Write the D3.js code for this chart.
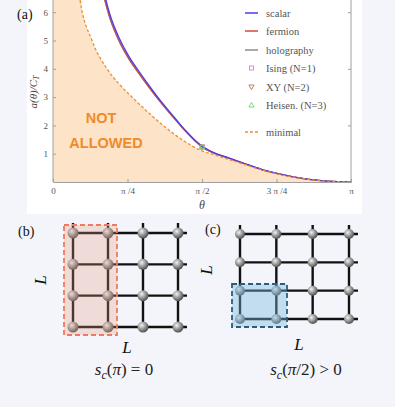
<!DOCTYPE html>
<html><head><meta charset="utf-8">
<script src="https://cdn.jsdelivr.net/npm/d3@7"></script>
<style>body{margin:0;background:#f4f5fa}svg{display:block}</style>
</head><body>
<script>
// ---- data ----
const thetaMain   = [0.53, 0.60, 0.70, 0.80, 0.90, 1.00, 1.10, 1.20, 1.30, 1.40, 1.50, 1.571, 1.70, 1.845, 2.00, 2.20, 2.40, 2.60, 2.80, 3.00, Math.PI];
const scalarVals  = [6.80, 5.92, 5.07, 4.44, 3.94, 3.47, 3.02, 2.60, 2.20, 1.81, 1.47, 1.27, 1.03, 0.86, 0.68, 0.45, 0.28, 0.145, 0.057, 0.012, 0];
const fermionVals = [6.65, 5.80, 4.97, 4.36, 3.87, 3.41, 2.97, 2.56, 2.17, 1.79, 1.45, 1.25, 1.02, 0.85, 0.67, 0.44, 0.27, 0.14, 0.055, 0.012, 0];
const holoVals    = [6.62, 5.78, 4.95, 4.34, 3.86, 3.40, 2.96, 2.55, 2.16, 1.78, 1.44, 1.24, 1.01, 0.84, 0.67, 0.44, 0.27, 0.14, 0.055, 0.012, 0];
const thetaMin    = [0.25, 0.285, 0.411, 0.569, 0.70, 0.833, 1.00, 1.16, 1.35, 1.55, 1.70, 2.00, 2.20, 2.40, 2.60, 2.80, 3.00, Math.PI];
const minimalVals = [7.30, 6.43, 5.00, 4.00, 3.45, 3.00, 2.47, 2.00, 1.52, 1.13, 0.96, 0.64, 0.43, 0.26, 0.135, 0.052, 0.011, 0];
const modelNames  = ["Ising (N=1)", "XY (N=2)", "Heisen. (N=3)"];
const modelVals   = [1.23, 1.24, 1.25];
const xTickVals   = [0, Math.PI/4, Math.PI/2, 3*Math.PI/4, Math.PI];
const xTickLabels = ["0", "π /4", "π /2", "3 π /4", "π"];
const yTickVals   = [1, 2, 3, 4, 5, 6];
const yRightTicks = [2, 4, 6];
const latticeCols = [0, 1, 2, 3];
const latticeRows = [0, 1, 2, 3];

const W = 395, H = 407;
const svg = d3.select("body").append("svg").attr("width", W).attr("height", H);
const defs = svg.append("defs");

// background panel (a)
svg.append("rect").attr("x", 27).attr("y", 0).attr("width", 335).attr("height", 214).attr("fill", "#ffffff");

const x = d3.scaleLinear().domain([0, Math.PI]).range([53, 351]);
const y = d3.scaleLinear().domain([0, 6]).range([182, 12.2]);

defs.append("clipPath").attr("id", "plotclip").append("rect")
  .attr("x", 53).attr("y", 0).attr("width", 298).attr("height", 182);

const serif = "'Liberation Serif', 'Times New Roman', serif";
const plot = svg.append("g").attr("clip-path", "url(#plotclip)");

// shaded "not allowed" region
const minData = thetaMin.map((t, i) => [t, minimalVals[i]]);
plot.append("rect").attr("x", x(0)).attr("y", 0).attr("width", x(0.3) - x(0)).attr("height", 182).attr("fill", "#fde3c7");
plot.append("path").datum(minData)
  .attr("d", d3.area().x(d => x(d[0])).y0(y(0)).y1(d => y(d[1])).curve(d3.curveMonotoneX))
  .attr("fill", "#fde3c7");

const line = d3.line().x(d => x(d[0])).y(d => y(d[1])).curve(d3.curveMonotoneX);
const series = [
  {vals: holoVals, color: "#8c8c8c"},
  {vals: fermionVals, color: "#cf4a3c"},
  {vals: scalarVals, color: "#4a3cf0"}
];
series.forEach(s => {
  plot.append("path").datum(thetaMain.map((t, i) => [t, s.vals[i]]))
    .attr("d", line).attr("fill", "none").attr("stroke", s.color).attr("stroke-width", 1.3);
});
plot.append("path").datum(minData).attr("d", line).attr("fill", "none")
  .attr("stroke", "#e8903a").attr("stroke-width", 1.3).attr("stroke-dasharray", "3,2");

// markers
const markerColors = ["#e07ad8", "#c0724a", "#6cd46c"];
function marker(g, kind, cx, cy, col) {
  if (kind === 0) g.append("rect").attr("x", cx - 2).attr("y", cy - 2).attr("width", 4).attr("height", 4)
      .attr("fill", "none").attr("stroke", col).attr("stroke-width", 0.9);
  else if (kind === 1) g.append("path").attr("d", `M${cx-2.6},${cy-2}L${cx+2.6},${cy-2}L${cx},${cy+2.6}Z`)
      .attr("fill", "none").attr("stroke", col).attr("stroke-width", 0.9);
  else g.append("path").attr("d", `M${cx-2.6},${cy+2}L${cx+2.6},${cy+2}L${cx},${cy-2.6}Z`)
      .attr("fill", "none").attr("stroke", col).attr("stroke-width", 0.9);
}
modelVals.forEach((v, i) => marker(svg, i, x(Math.PI/2), y(v), markerColors[i]));

// axes
const axCol = "#a0a0a0";
const gx = svg.append("g").attr("transform", "translate(0,182)")
  .call(d3.axisBottom(x).tickValues(xTickVals).tickFormat((d, i) => xTickLabels[i]).tickSize(-3).tickPadding(6));
const gy = svg.append("g").attr("transform", "translate(53,0)")
  .call(d3.axisLeft(y).tickValues(yTickVals).tickFormat(d3.format("d")).tickSize(-3).tickPadding(5));
const gr = svg.append("g").attr("transform", "translate(351,0)")
  .call(d3.axisRight(y).tickValues(yRightTicks).tickSize(-3).tickFormat(""));
[gx, gy, gr].forEach(g => {
  g.select(".domain").attr("stroke", axCol).attr("stroke-width", 1);
  g.selectAll(".tick line").attr("stroke", axCol);
  g.selectAll("text").attr("fill", "#555").attr("font-family", serif).attr("font-size", 9);
});
gy.select(".domain").attr("d", "M0,0V182");
gr.select(".domain").attr("d", "M0,0V182");

// axis titles
svg.append("text").attr("x", 202).attr("y", 209).attr("text-anchor", "middle")
  .attr("font-family", serif).attr("font-style", "italic").attr("font-size", 12).attr("fill", "#444").text("θ");
const yl = svg.append("text").attr("transform", "translate(37,92) rotate(-90)").attr("text-anchor", "middle")
  .attr("font-family", serif).attr("font-style", "italic").attr("font-size", 11).attr("fill", "#444");
yl.append("tspan").text("a(θ)/C");
yl.append("tspan").attr("font-size", 8).attr("dy", 2).text("T");

svg.append("text").attr("x", 17).attr("y", 19).attr("font-family", serif).attr("font-size", 14).attr("fill", "#111").text("(a)");

// NOT ALLOWED
const na = svg.append("g").attr("font-family", "'Liberation Sans', Arial, sans-serif").attr("font-weight", "bold")
  .attr("font-size", 14.5).attr("fill", "#f08a2a").attr("text-anchor", "middle");
na.append("text").attr("x", 101).attr("y", 123).text("NOT");
na.append("text").attr("x", 106).attr("y", 148).text("ALLOWED");

// legend
const leg = svg.append("g").attr("font-family", serif).attr("font-size", 10.5).attr("fill", "#555");
const legNames = ["scalar", "fermion", "holography"];
const legRows = [13, 31, 50, 68, 87, 105, 132];
series.slice().reverse().forEach((s, i) => {
  leg.append("line").attr("x1", 245).attr("x2", 258).attr("y1", legRows[i]).attr("y2", legRows[i])
    .attr("stroke", s.color).attr("stroke-width", 1.5);
  leg.append("text").attr("x", 266).attr("y", legRows[i] + 3.5).text(legNames[i]);
});
modelNames.forEach((n, i) => {
  marker(leg, i, 251.5, legRows[3 + i], markerColors[i]);
  leg.append("text").attr("x", 266).attr("y", legRows[3 + i] + 3.5).text(n);
});
leg.append("line").attr("x1", 245).attr("x2", 258).attr("y1", legRows[6]).attr("y2", legRows[6])
  .attr("stroke", "#e8903a").attr("stroke-width", 1.5).attr("stroke-dasharray", "3,2");
leg.append("text").attr("x", 266).attr("y", legRows[6] + 3.5).text("minimal");

// ---- lattice panels ----
const grad = defs.append("radialGradient").attr("id", "ball").attr("cx", "38%").attr("cy", "35%").attr("r", "65%");
grad.append("stop").attr("offset", "0%").attr("stop-color", "#f2f2f2");
grad.append("stop").attr("offset", "45%").attr("stop-color", "#a8a8a8");
grad.append("stop").attr("offset", "100%").attr("stop-color", "#505050");

function lattice(cfg) {
  const g = svg.append("g");
  const lx = d3.scaleLinear().domain([0, 3]).range(cfg.xr);
  const ly = d3.scaleLinear().domain([0, 3]).range(cfg.yr);
  latticeRows.forEach(r => g.append("line").attr("x1", lx(0)).attr("x2", cfg.xEnd)
    .attr("y1", ly(r)).attr("y2", ly(r)).attr("stroke", "#111").attr("stroke-width", 2.4));
  latticeCols.forEach(c => g.append("line").attr("x1", lx(c)).attr("x2", lx(c))
    .attr("y1", cfg.yStart).attr("y2", ly(3)).attr("stroke", "#111").attr("stroke-width", 2.4));
  latticeRows.forEach(r => latticeCols.forEach(c =>
    g.append("circle").attr("cx", lx(c)).attr("cy", ly(r)).attr("r", cfg.rad).attr("fill", "url(#ball)")));
  g.append("rect").attr("x", cfg.box[0]).attr("y", cfg.box[1]).attr("width", cfg.box[2]).attr("height", cfg.box[3])
    .attr("fill", cfg.fill).attr("stroke", cfg.stroke).attr("stroke-width", 1.8).attr("stroke-dasharray", "5,3");
  return g;
}
lattice({xr: [73, 178], yr: [233, 327], xEnd: 187, yStart: 223, rad: 5.5,
  box: [64, 225, 53, 110], fill: "rgba(225,150,130,0.28)", stroke: "#f07a60"});
lattice({xr: [240, 349], yr: [234, 319], xEnd: 358, yStart: 225, rad: 5,
  box: [232, 284, 55, 43], fill: "rgba(120,185,225,0.4)", stroke: "#2e5d7c"});

svg.append("text").attr("x", 18).attr("y", 236).attr("font-family", serif).attr("font-size", 14).attr("fill", "#111").text("(b)");
svg.append("text").attr("x", 205).attr("y", 234).attr("font-family", serif).attr("font-size", 14).attr("fill", "#111").text("(c)");

const Lstyle = g => g.attr("font-family", serif).attr("font-style", "italic").attr("font-size", 17).attr("fill", "#111").attr("text-anchor", "middle");
svg.append("text").call(Lstyle).attr("transform", "translate(46,280) rotate(-90)").text("L");
svg.append("text").call(Lstyle).attr("x", 127).attr("y", 353).text("L");
svg.append("text").call(Lstyle).attr("transform", "translate(212,270) rotate(-90)").text("L");
svg.append("text").call(Lstyle).attr("x", 299).attr("y", 350).text("L");

function formula(cx, arg, rel) {
  const t = svg.append("text").attr("x", cx).attr("y", 375).attr("text-anchor", "middle")
    .attr("font-family", serif).attr("font-size", 17).attr("fill", "#222");
  t.append("tspan").attr("font-style", "italic").text("s");
  t.append("tspan").attr("font-style", "italic").attr("font-size", 12).attr("dy", 4).text("c");
  t.append("tspan").attr("dy", -4).text("(");
  t.append("tspan").attr("font-style", "italic").text("π");
  t.append("tspan").text(arg + ") " + rel + " 0");
}
formula(124, "", "=");
formula(306, "/2", ">");
</script>
</body></html>
